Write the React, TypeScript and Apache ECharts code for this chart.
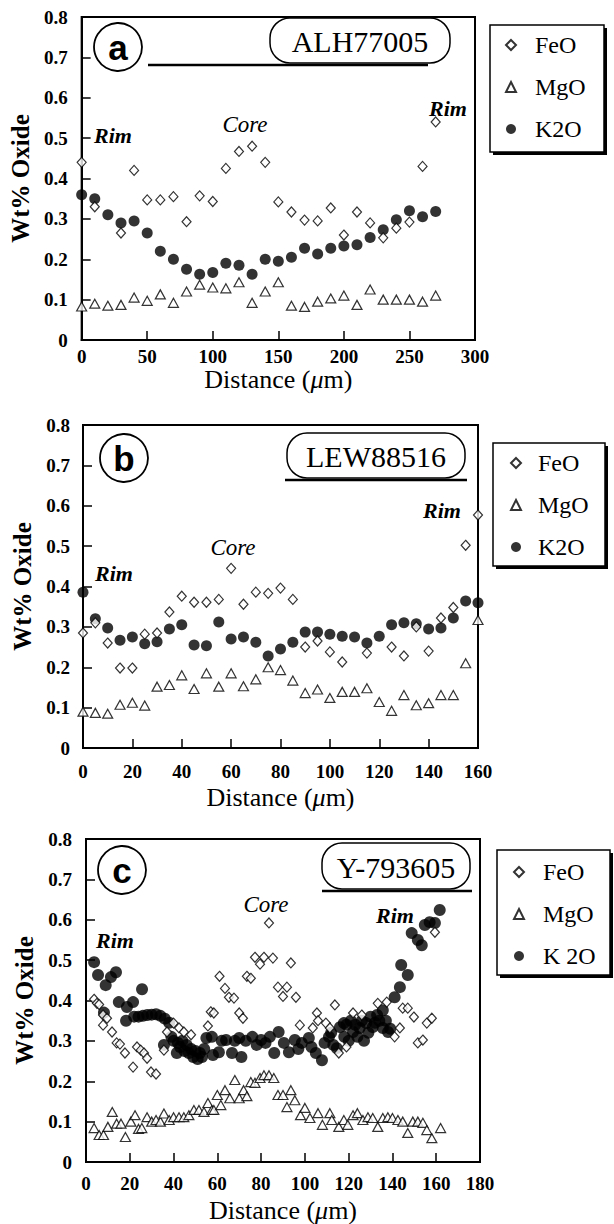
import React, { useEffect, useRef } from "react";
import * as echarts from "echarts";

type P = [number, number];

// ---------- Panel a : ALH77005 ----------
const feoA: P[] = [[0,0.44],[10,0.33],[30,0.265],[40,0.42],[50,0.347],[60,0.347],[70,0.355],[80,0.293],[90,0.357],[100,0.343],[110,0.425],[120,0.467],[130,0.48],[140,0.44],[150,0.342],[160,0.317],[170,0.297],[180,0.295],[190,0.327],[200,0.26],[210,0.317],[220,0.29],[230,0.253],[240,0.277],[250,0.292],[260,0.43],[270,0.54]];
const mgoA: P[] = [[0,0.083],[10,0.09],[20,0.085],[30,0.087],[40,0.105],[50,0.097],[60,0.113],[70,0.092],[80,0.12],[90,0.137],[100,0.13],[110,0.128],[120,0.143],[130,0.092],[140,0.12],[150,0.143],[160,0.085],[170,0.082],[180,0.095],[190,0.103],[200,0.11],[210,0.087],[220,0.125],[230,0.1],[240,0.1],[250,0.1],[260,0.095],[270,0.11]];
const k2oA: P[] = [[0,0.36],[10,0.35],[20,0.31],[30,0.29],[40,0.295],[50,0.265],[60,0.22],[70,0.2],[80,0.175],[90,0.163],[100,0.167],[110,0.19],[120,0.185],[130,0.163],[140,0.2],[150,0.195],[160,0.205],[170,0.227],[180,0.213],[190,0.227],[200,0.233],[210,0.236],[220,0.254],[230,0.273],[240,0.298],[250,0.32],[260,0.305],[270,0.318]];

// ---------- Panel b : LEW88516 ----------
const feoB: P[] = [[0,0.285],[5,0.31],[10,0.26],[15,0.198],[20,0.198],[25,0.282],[30,0.285],[35,0.337],[40,0.376],[45,0.361],[50,0.361],[55,0.368],[60,0.445],[65,0.356],[70,0.386],[75,0.383],[80,0.396],[85,0.368],[90,0.25],[95,0.265],[100,0.238],[105,0.213],[115,0.235],[125,0.25],[130,0.228],[135,0.3],[140,0.24],[145,0.322],[150,0.348],[155,0.502],[160,0.577]];
const mgoB: P[] = [[0,0.09],[5,0.087],[10,0.085],[15,0.107],[20,0.112],[25,0.105],[30,0.152],[35,0.156],[40,0.18],[45,0.146],[50,0.185],[55,0.152],[60,0.185],[65,0.153],[70,0.17],[75,0.2],[80,0.193],[85,0.167],[90,0.136],[95,0.145],[100,0.124],[105,0.139],[110,0.139],[115,0.148],[120,0.114],[125,0.092],[130,0.131],[135,0.106],[140,0.111],[145,0.131],[150,0.131],[155,0.21],[160,0.317]];
const k2oB: P[] = [[0,0.386],[5,0.32],[10,0.297],[15,0.267],[20,0.275],[25,0.258],[30,0.263],[35,0.295],[40,0.305],[45,0.255],[50,0.253],[55,0.312],[60,0.27],[65,0.275],[70,0.262],[75,0.228],[80,0.245],[85,0.262],[90,0.287],[95,0.287],[100,0.282],[105,0.277],[110,0.275],[115,0.26],[120,0.277],[125,0.305],[130,0.31],[135,0.308],[140,0.295],[145,0.297],[150,0.322],[155,0.364],[160,0.36]];

// ---------- Panel c : Y-793605 ----------
const feoC: P[] = [[3.7,0.403],[5,0.393],[6,0.39],[7.8,0.364],[7.8,0.339],[9.6,0.356],[11.9,0.322],[14,0.295],[15.5,0.292],[17.8,0.27],[21.5,0.235],[23.3,0.285],[25,0.277],[26.5,0.27],[27.9,0.257],[29.7,0.223],[32,0.218],[35.6,0.277],[37,0.322],[40,0.344],[42.5,0.332],[44.7,0.322],[48,0.315],[55.7,0.337],[57,0.372],[58.4,0.369],[61,0.46],[63.5,0.43],[65.3,0.408],[67.6,0.406],[70,0.369],[71.7,0.356],[73.5,0.46],[75.3,0.455],[77.2,0.507],[79.5,0.49],[81.3,0.507],[83.6,0.592],[85.4,0.505],[87.7,0.433],[90,0.41],[91.8,0.433],[93.6,0.493],[95.9,0.408],[97.7,0.339],[103.6,0.332],[105.5,0.369],[106,0.35],[109.6,0.344],[111.4,0.332],[113.7,0.389],[115.5,0.27],[119,0.285],[122,0.369],[126,0.364],[133.3,0.393],[137.4,0.396],[141,0.31],[143.4,0.332],[144.7,0.381],[147,0.381],[149.8,0.359],[151.6,0.295],[153.9,0.302],[155.7,0.344],[158,0.356],[159.4,0.569]];
const mgoC: P[] = [[3.7,0.084],[6,0.067],[8,0.067],[10,0.087],[12,0.124],[14,0.095],[16,0.095],[18,0.062],[20.5,0.1],[22.4,0.116],[24,0.082],[25.5,0.084],[27.9,0.111],[30,0.1],[32,0.104],[34,0.1],[35.6,0.12],[38,0.104],[40,0.111],[42.5,0.111],[44.7,0.111],[47,0.116],[49.3,0.129],[51.6,0.129],[53.9,0.124],[55.7,0.146],[57.5,0.129],[58.4,0.129],[60,0.166],[61.6,0.141],[63.5,0.178],[65.7,0.158],[68,0.203],[70,0.158],[72,0.178],[73.5,0.163],[75.3,0.198],[77.2,0.196],[79.5,0.208],[81.3,0.215],[83.6,0.215],[85.8,0.208],[87.7,0.166],[90,0.166],[91.8,0.136],[93.6,0.178],[95.4,0.153],[98,0.116],[100,0.134],[102.3,0.109],[106,0.121],[108,0.092],[111.4,0.121],[112.3,0.104],[115.5,0.087],[117.8,0.104],[119.6,0.092],[122,0.116],[124,0.121],[126.5,0.104],[128.8,0.111],[131,0.109],[133.3,0.087],[135.6,0.109],[137.9,0.111],[140,0.109],[142.5,0.104],[144.7,0.1],[147,0.072],[149.3,0.1],[151.6,0.1],[153.9,0.097],[155.7,0.079],[158,0.059],[162,0.084]];
const k2oC: P[] = [[3.7,0.495],[5.5,0.463],[8.2,0.37],[9,0.438],[11.4,0.458],[13.7,0.47],[15,0.396],[18.3,0.35],[18.7,0.384],[21.5,0.396],[22,0.36],[24,0.36],[25.6,0.428],[26,0.362],[28,0.364],[30,0.365],[32,0.366],[34,0.362],[36,0.355],[38,0.345],[35.6,0.29],[39,0.31],[40,0.3],[41.5,0.27],[42,0.295],[43,0.285],[44,0.3],[45,0.275],[46,0.29],[47,0.27],[48,0.28],[49,0.26],[50,0.275],[51,0.255],[52,0.27],[53,0.26],[54,0.28],[55,0.307],[57.5,0.31],[58,0.265],[60.7,0.272],[62,0.3],[64,0.302],[66.7,0.27],[68,0.3],[70,0.307],[71,0.26],[73,0.3],[76,0.31],[78,0.29],[80,0.302],[82,0.295],[84,0.31],[86,0.27],[88,0.322],[90.4,0.295],[92.7,0.272],[95.4,0.302],[97,0.28],[98.6,0.295],[101.8,0.307],[103,0.285],[105,0.27],[107.8,0.252],[109,0.295],[111,0.31],[112,0.32],[113,0.29],[114.6,0.282],[116,0.334],[117.8,0.344],[118,0.31],[119,0.34],[120,0.3],[121,0.35],[122,0.322],[123,0.34],[124,0.31],[125,0.332],[126,0.35],[127,0.3],[128,0.344],[129,0.32],[130,0.36],[131,0.334],[132,0.345],[133,0.364],[134,0.35],[135.6,0.376],[135.6,0.332],[137,0.35],[138,0.322],[139,0.33],[141,0.408],[143.4,0.433],[144,0.488],[147,0.463],[148.8,0.567],[151.6,0.55],[153.4,0.537],[154.8,0.587],[157,0.594],[159.4,0.592],[161.6,0.624]];

// axes
const yMax = 0.8;
const yStep = 0.1;
const xMaxA = 300, xStepA = 50;
const xMaxB = 160, xStepB = 20;
const xMaxC = 180, xStepC = 20;
const seriesNames = ["FeO", "MgO", "K2O"];
const sampleNames = ["ALH77005", "LEW88516", "Y-793605"];
const panelLetters = ["a", "b", "c"];

const SERIF = "Liberation Serif";
const SANS = "Liberation Sans";

const grids = [
  { left: 81, top: 17, width: 394, height: 323 },
  { left: 83, top: 425, width: 395, height: 323 },
  { left: 86, top: 839, width: 394, height: 323 },
];

function xAxisFor(i: number, max: number, step: number, labelMargin: number, nameGap: number) {
  return {
    type: "value",
    gridIndex: i,
    min: 0,
    max,
    interval: step,
    name: "Distance ({i|μ}m)",
    nameLocation: "middle",
    nameGap,
    nameTextStyle: {
      fontFamily: SERIF,
      fontSize: 26,
      color: "#000",
      rich: { i: { fontFamily: SERIF, fontSize: 26, fontStyle: "italic", color: "#000" } },
    },
    axisLine: { show: true, lineStyle: { color: "#000", width: 2 } },
    axisTick: { show: true, inside: true, length: 9, lineStyle: { color: "#000", width: 1.5 } },
    axisLabel: { color: "#000", fontFamily: SERIF, fontSize: 19, fontWeight: "bold", margin: labelMargin },
    splitLine: { show: false },
  };
}

function yAxisFor(i: number, nameGap: number, labelMargin: number) {
  return {
    type: "value",
    gridIndex: i,
    min: 0,
    max: yMax,
    interval: yStep,
    name: "Wt% Oxide",
    nameLocation: "middle",
    nameRotate: 90,
    nameGap,
    nameTextStyle: { fontFamily: SERIF, fontSize: 25, fontWeight: "bold", color: "#000" },
    axisLine: { show: true, lineStyle: { color: "#000", width: 2 } },
    axisTick: { show: true, inside: true, length: 9, lineStyle: { color: "#000", width: 1.5 } },
    axisLabel: {
      color: "#000",
      fontFamily: SERIF,
      fontSize: 19,
      fontWeight: "bold",
      margin: labelMargin,
      formatter: (v: number) => (v === 0 ? "0" : (Math.round(v * 10) / 10).toString()),
    },
    splitLine: { show: false },
  };
}

function panelSeries(i: number, feo: P[], mgo: P[], k2o: P[], dot: number) {
  return [
    {
      name: seriesNames[2], type: "scatter", xAxisIndex: i, yAxisIndex: i, data: k2o,
      symbol: "circle", symbolSize: dot, itemStyle: { color: "#000" }, z: 2,
    },
    {
      name: seriesNames[1], type: "scatter", xAxisIndex: i, yAxisIndex: i, data: mgo,
      symbol: "triangle", symbolSize: [10, 9], itemStyle: { color: "#fff", borderColor: "#000", borderWidth: 1.2 }, z: 3,
    },
    {
      name: seriesNames[0], type: "scatter", xAxisIndex: i, yAxisIndex: i, data: feo,
      symbol: "diamond", symbolSize: [9, 10], itemStyle: { color: "#fff", borderColor: "#000", borderWidth: 1.2 }, z: 4,
    },
  ];
}

function legendFor(left: number, top: number, textPad: number, fmt?: (n: string) => string) {
  return {
    orient: "vertical",
    left,
    top,
    data: seriesNames,
    selectedMode: false,
    itemWidth: 10,
    itemHeight: 10,
    itemGap: 18,
    padding: 0,
    z: 10,
    formatter: fmt || ((n: string) => n),
    textStyle: { fontFamily: SERIF, fontSize: 24, color: "#000", lineHeight: 24, padding: [0, 0, 0, textPad] },
  };
}

function legendBox(x: number, y: number, w: number, h: number) {
  return [
    { type: "rect", z: 5, shape: { x: x + 3, y: y + 3, width: w, height: h }, style: { fill: "#000" } },
    { type: "rect", z: 6, shape: { x, y, width: w, height: h }, style: { fill: "#fff", stroke: "#000", lineWidth: 1.5 } },
  ];
}

function sampleTag(name: string, x: number, y: number, w: number, h: number, ux1: number, ux2: number) {
  return [
    { type: "rect", z: 6, shape: { x, y, width: w, height: h, r: 20 }, style: { fill: "#fff", stroke: "#000", lineWidth: 1.5 } },
    { type: "line", z: 7, shape: { x1: ux1, y1: y + h + 2, x2: ux2, y2: y + h + 2 }, style: { stroke: "#000", lineWidth: 2.5 } },
    {
      type: "text", z: 8, x: x + w / 2, y: y + h / 2 + 1,
      style: { text: name, fontFamily: SERIF, fontSize: 30, fill: "#000", align: "center", verticalAlign: "middle" },
    },
  ];
}

function letterCircle(letter: string, cx: number, cy: number) {
  return [
    { type: "circle", z: 6, shape: { cx, cy, r: 24 }, style: { fill: "#fff", stroke: "#000", lineWidth: 1.8 } },
    {
      type: "text", z: 7, x: cx, y: cy,
      style: { text: letter, fontFamily: SANS, fontSize: 35, fontWeight: "bold", fill: "#000", align: "center", verticalAlign: "middle" },
    },
  ];
}

function note(text: string, x: number, y: number, bold: boolean, size: number) {
  return {
    type: "text", z: 7, x, y,
    style: {
      text, fontFamily: SERIF, fontSize: size, fontStyle: "italic", fontWeight: bold ? "bold" : "normal",
      fill: "#000", align: "center", verticalAlign: "middle",
    },
  };
}

export default function App() {
  const ref = useRef<HTMLDivElement>(null);
  useEffect(() => {
    if (!ref.current) return;
    const chart = echarts.init(ref.current, undefined, { renderer: "svg" });
    const option: any = {
      animation: false,
      backgroundColor: "#fff",
      textStyle: { fontFamily: SERIF },
      grid: grids.map((g) => ({ ...g, show: true, borderColor: "#000", borderWidth: 2, backgroundColor: "transparent" })),
      xAxis: [
        xAxisFor(0, xMaxA, xStepA, 7, 25),
        xAxisFor(1, xMaxB, xStepB, 14, 36),
        xAxisFor(2, xMaxC, xStepC, 12, 35),
      ],
      yAxis: [yAxisFor(0, 44, 14), yAxisFor(1, 44, 13), yAxisFor(2, 47, 14)],
      legend: [
        legendFor(505, 33, 14),
        legendFor(510, 451, 12),
        legendFor(513, 860, 14, (n: string) => (n === "K2O" ? "K 2O" : n)),
      ],
      series: [
        ...panelSeries(0, feoA, mgoA, k2oA, 11),
        ...panelSeries(1, feoB, mgoB, k2oB, 11),
        ...panelSeries(2, feoC, mgoC, k2oC, 12),
      ],
      graphic: [
        ...legendBox(490, 25, 114, 127),
        ...legendBox(493, 443, 112, 123),
        ...legendBox(497, 850, 113, 125),
        ...sampleTag(sampleNames[0], 270, 18, 180, 45, 148, 428),
        ...sampleTag(sampleNames[1], 287, 433, 178, 45, 285, 467),
        ...sampleTag(sampleNames[2], 322, 843, 148, 46, 322, 472),
        ...letterCircle(panelLetters[0], 118, 47),
        ...letterCircle(panelLetters[1], 124, 458),
        ...letterCircle(panelLetters[2], 122, 870),
        note("Rim", 113, 135, true, 22),
        note("Core", 245, 124, false, 23),
        note("Rim", 448, 108, true, 22),
        note("Rim", 114, 573, true, 22),
        note("Core", 233, 547, false, 23),
        note("Rim", 442, 510, true, 22),
        note("Rim", 115, 940, true, 22),
        note("Core", 266, 904, false, 23),
        note("Rim", 395, 915, true, 22),
      ],
    };
    chart.setOption(option);
    return () => chart.dispose();
  }, []);
  return (
    <div
      ref={ref}
      style={{ position: "fixed", left: 0, top: 0, width: 614, height: 1224, background: "#fff" }}
    />
  );
}
